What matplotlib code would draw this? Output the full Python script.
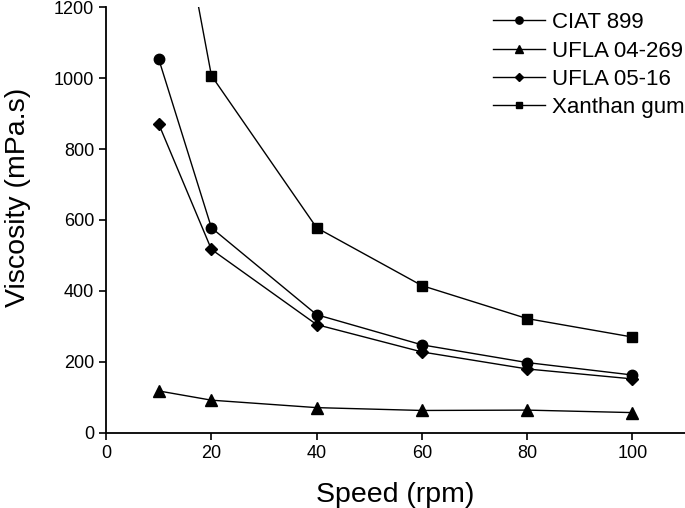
"""
Viscosity vs spindle speed for three EPS samples and xanthan gum.
"""

import matplotlib

matplotlib.use("Agg")

import matplotlib.pyplot as plt


SPEED = [10, 20, 40, 60, 80, 100]

CIAT_899 = [1053, 578, 333, 248, 198, 163]
UFLA_04_269 = [118, 92, 71, 63, 64, 57]
UFLA_05_16 = [870, 517, 305, 228, 180, 152]
XANTHAN = [1800, 1007, 578, 415, 322, 270]

SERIES = [
    ("CIAT 899", CIAT_899, "o", 7.5),
    ("UFLA 04-269", UFLA_04_269, "^", 8),
    ("UFLA 05-16", UFLA_05_16, "D", 6.5),
    ("Xanthan gum", XANTHAN, "s", 6.5),
]


def plot_viscosity() -> None:
    plt.rcParams["font.family"] = ["Liberation Sans", "DejaVu Sans"]

    fig = plt.figure(figsize=(6.85, 5.08), dpi=100)
    ax = fig.add_axes([0.155, 0.148, 0.845, 0.838])

    for name, values, marker, size in SERIES:
        ax.plot(SPEED, values, color="black", linewidth=1.0,
                marker=marker, markersize=size, label=name)

    ax.set_xlim(0, 110)
    ax.set_ylim(0, 1200)
    ax.set_xticks([0, 20, 40, 60, 80, 100])
    ax.set_yticks([0, 200, 400, 600, 800, 1000, 1200])

    ax.spines["top"].set_visible(False)
    ax.spines["right"].set_visible(False)
    ax.spines["left"].set_linewidth(1.3)
    ax.spines["bottom"].set_linewidth(1.3)
    ax.tick_params(direction="out", length=5, width=1.2, labelsize=13)

    ax.set_xlabel("Speed (rpm)", fontsize=20.5, labelpad=15)
    ax.set_ylabel("Viscosity (mPa.s)", fontsize=20.5)
    ax.yaxis.set_label_coords(-0.13, 0.554)

    ax.legend(loc="upper left", frameon=False, fontsize=16,
              handlelength=2.35, handletextpad=0.3, labelspacing=0.33,
              markerscale=0.7, borderpad=0.0, borderaxespad=0.0,
              bbox_to_anchor=(493 / 685, 0.976),
              bbox_transform=fig.transFigure)

    fig.savefig("out.png", dpi=100)


if __name__ == "__main__":
    plot_viscosity()
